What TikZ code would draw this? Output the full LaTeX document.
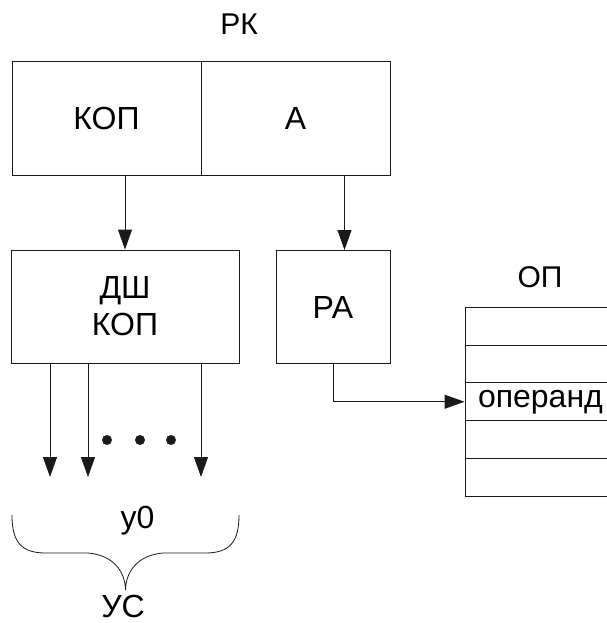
\documentclass[tikz,border=0pt]{standalone}
\usepackage{fontspec}
\setmainfont{Liberation Sans}
\usetikzlibrary{arrows.meta, positioning}
\definecolor{lineclr}{HTML}{1A1A1A}
\tikzset{
  cell/.style={
    rectangle, draw=lineclr, line width=1pt,
    minimum height=113pt,
    font=\fontsize{32}{37}\selectfont, align=center
  },
  memcell/.style={
    rectangle, draw=lineclr, line width=1pt,
    minimum width=160pt, minimum height=37.7pt,
    inner xsep=13pt, inner ysep=0pt, text width=134pt, align=left,
    font=\fontsize{32}{37}\selectfont
  },
  arr/.style={-{Triangle[length=20pt, width=14pt]}, line width=1pt, lineclr},
  lbl/.style={font=\fontsize{32}{37}\selectfont, inner sep=0pt},
  title/.style={font=\fontsize{30}{36}\selectfont, inner sep=0pt},
}

\begin{document}
\begin{tikzpicture}[x=1pt, y=-1pt]
\useasboundingbox (0,0) rectangle (606,623);

% --- Command register ---
\node[title] (rklbl) at (239,24.5) {РК};
\node[cell, minimum width=189pt] (kop) at (106.5,118.5) {КОП};
\node[cell, minimum width=189pt] (addr) at (295.5,118.5) {А};

% --- Decoder and address register ---
\node[cell, minimum width=228pt] (dsh) at (125,306.5) {ДШ\\КОП};
\node[cell, minimum width=114pt] (ra) at (333,307) {РА};

% --- Main memory ---
\node[title] (oplbl) at (540,277.5) {ОП};
\foreach \i/\txt in {1/,2/,3/операнд,4/,5/}
  \node[memcell] (cell\i) at (545,{307.5+(\i-0.5)*37.7}) {\txt};

% --- Arrows ---
\draw[arr] (kop.south -| dsh.north) -- (dsh.north);
\draw[arr] ([xshift=11.5pt]ra.north |- addr.south) -- ([xshift=11.5pt]ra.north);
\draw[arr] (ra.south) |- (cell3.west);

% --- Control outputs ---
\coordinate (ends) at (0,477);
\foreach \dx in {-75,-37,76}
  \draw[arr] ([xshift=\dx pt]dsh.south) -- ([xshift=\dx pt]dsh.south |- ends);
\foreach \x in {107,140,171}
  \fill[lineclr] (\x,440) circle (5pt);

% --- Brace ---
\draw[lineclr, line width=0.8pt] (12,515) .. controls (12,543) and (22,553) .. (46,553)
  -- (88,553) .. controls (112,555) and (125,570) .. (125.5,590)
  .. controls (126,570) and (139,555) .. (163,553)
  -- (205,553) .. controls (229,553) and (239,543) .. (239,515);
\node[lbl] (ylbl) at (137.5,521) {у0};
\node[lbl] (uslbl) at (123,606.5) {УС};

\end{tikzpicture}
\end{document}
